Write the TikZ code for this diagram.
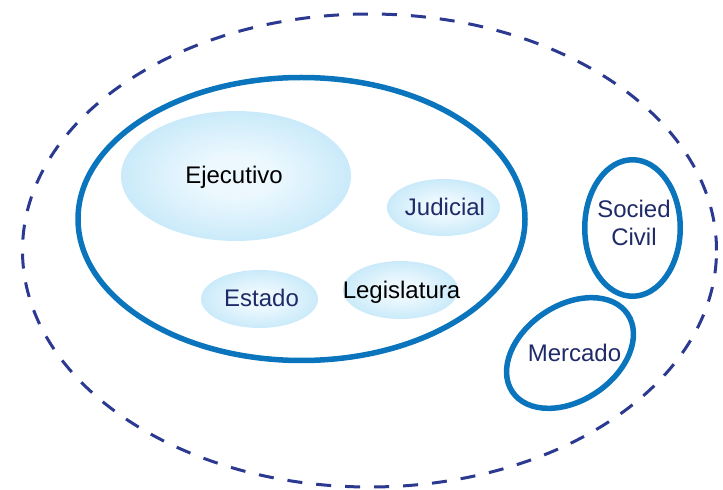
\documentclass[tikz,border=0pt]{standalone}
\usepackage{fontspec}
\setmainfont{Liberation Sans}
\usetikzlibrary{shapes.geometric}
\definecolor{ringblue}{RGB}{10,117,188}
\definecolor{navy}{RGB}{31,42,104}
\definecolor{dashnavy}{RGB}{43,57,144}
\definecolor{fillin}{RGB}{236,248,254}
\definecolor{fillout}{RGB}{152,214,243}
\pgfdeclareradialshading{softblue}{\pgfpoint{0bp}{0bp}}{color(0bp)=(fillin); color(8bp)=(fillin); color(50bp)=(fillout); color(100bp)=(fillout)}
\tikzset{
  blob/.style={ellipse, draw=none, shading=softblue, inner sep=0pt},
  ring/.style={draw=ringblue, line width=5.5pt, fill=none},
  lbl/.style={font=\fontsize{24}{28}\selectfont, anchor=base, inner sep=0pt},
}
\begin{document}
\begin{tikzpicture}[x=1pt,y=1pt]
\useasboundingbox (0,0) rectangle (723,490);
% outer dashed
\draw[dashnavy, line width=3pt, dash pattern=on 15pt off 14pt] (369.5,239.5) ellipse [x radius=347, y radius=236.5];
% inner ring
\draw[ring] (301.5,271) ellipse [x radius=223.5, y radius=141.5];
% shaded blobs
\node[blob, minimum width=230pt, minimum height=130pt] (ejeb) at (236,314) {};
\node[blob, minimum width=113pt, minimum height=57pt] (judb) at (443.5,282.5) {};
\node[blob, minimum width=115pt, minimum height=58pt] (legb) at (400.5,200) {};
\node[blob, minimum width=117pt, minimum height=58pt] (estb) at (259.5,191) {};
% right rings
\node[ring, ellipse, minimum width=95.5pt, minimum height=136.5pt, inner sep=0pt] (socb) at (632.5,262) {};
\draw[ring, rotate around={34:(570,137)}] (570,137) ellipse [x radius=69.5, y radius=47.5];
% labels
\node[lbl, text=black] (eje) at (234,306) {Ejecutivo};
\node[lbl, text=navy] (jud) at (445,274) {Judicial};
\node[lbl, text=black] (leg) at (401.5,191) {Legislatura};
\node[lbl, text=navy] (est) at (261.5,183) {Estado};
\node[lbl, text=navy] (soc1) at (634,272) {Socied};
\node[lbl, text=navy] (soc2) at (634,244) {Civil};
\node[lbl, text=navy] (mer) at (574.5,128) {Mercado};
\end{tikzpicture}
\end{document}
